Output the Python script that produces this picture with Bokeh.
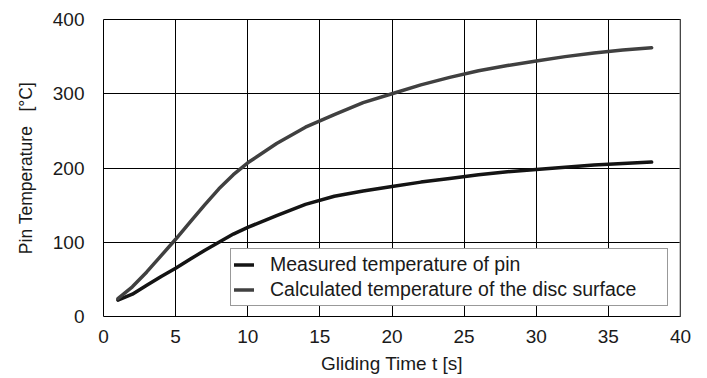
from bokeh.plotting import figure
from bokeh.models import ColumnDataSource, Legend, LegendItem, Title, Span, FixedTicker, Range1d
from bokeh.embed import file_html
from bokeh.resources import INLINE

# ---- data ----
time_s = [1, 2, 3, 4, 5, 6, 7, 8, 9, 10, 12, 14, 16, 18, 20, 22, 24, 26, 28, 30, 32, 34, 36, 38]
measured_pin = [22, 30, 42, 54, 65, 77, 89, 100, 111, 120, 136, 151, 162, 169, 175, 181, 186, 191, 195, 198, 201, 204, 206, 208]
calculated_disc = [24, 40, 60, 82, 104, 127, 150, 172, 191, 207, 233, 255, 272, 288, 300, 312, 322, 331, 338, 344, 350, 355, 359, 362]
x_ticks = [0, 5, 10, 15, 20, 25, 30, 35, 40]
y_ticks = [0, 100, 200, 300, 400]
series_names = ["Measured temperature of pin", "Calculated temperature of the disc surface"]
x_title = "Gliding Time t [s]"
y_title = "Pin Temperature\u00a0\u00a0 [°C]"

FONT = "Liberation Sans"

src = ColumnDataSource(dict(t=time_s, meas=measured_pin, calc=calculated_disc))

p = figure(width=707, height=378, output_backend="svg", toolbar_location=None,
           x_range=Range1d(0, 40), y_range=Range1d(0, 400),
           min_border_left=102, min_border_right=27, min_border_top=19, min_border_bottom=62)
p.background_fill_color = "white"
p.border_fill_color = "white"
p.outline_line_color = "black"
p.outline_line_width = 1

for ax, ticks in ((p.xaxis, x_ticks), (p.yaxis, y_ticks)):
    ax.ticker = FixedTicker(ticks=ticks)
    ax.major_tick_line_color = None
    ax.minor_tick_line_color = None
    ax.axis_line_color = None
    ax.major_label_text_font = FONT
    ax.major_label_text_font_size = "19px"
    ax.major_label_text_color = "#1a1a1a"
p.xaxis.major_label_standoff = 7
p.yaxis.major_label_standoff = 13

p.xgrid.ticker = FixedTicker(ticks=x_ticks)
p.ygrid.ticker = FixedTicker(ticks=y_ticks)
for g in (p.xgrid, p.ygrid):
    g.grid_line_color = "black"
    g.grid_line_width = 1
    g.grid_line_alpha = 1

# gray right edge of the frame
p.add_layout(Span(location=40, dimension="height", line_color="#8c8c8c", line_width=2))

r_meas = p.line("t", "meas", source=src, line_color="#141414", line_width=3.5, line_cap="round")
r_calc = p.line("t", "calc", source=src, line_color="#404040", line_width=3.5, line_cap="round")

legend = Legend(items=[LegendItem(label=series_names[0], renderers=[r_meas]),
                       LegendItem(label=series_names[1], renderers=[r_calc])],
                location=(127, 10), margin=0, padding=3, spacing=0,
                glyph_width=20, glyph_height=25, label_height=25, label_width=394,
                label_standoff=16,
                label_text_font=FONT, label_text_font_size="19.5px", label_text_color="#1a1a1a",
                border_line_color="#333333", border_line_width=1,
                background_fill_color="white", background_fill_alpha=1)
p.add_layout(legend)

p.add_layout(Title(text=x_title, align="center", offset=-8, standoff=10,
                   text_font=FONT, text_font_size="19px", text_font_style="normal",
                   text_color="#1a1a1a"), "below")
p.add_layout(Title(text=y_title, align="center", offset=-3, standoff=27,
                   text_font=FONT, text_font_size="17.5px", text_font_style="normal",
                   text_color="#1a1a1a"), "left")

open("out.html", "w").write(file_html(p, INLINE))
